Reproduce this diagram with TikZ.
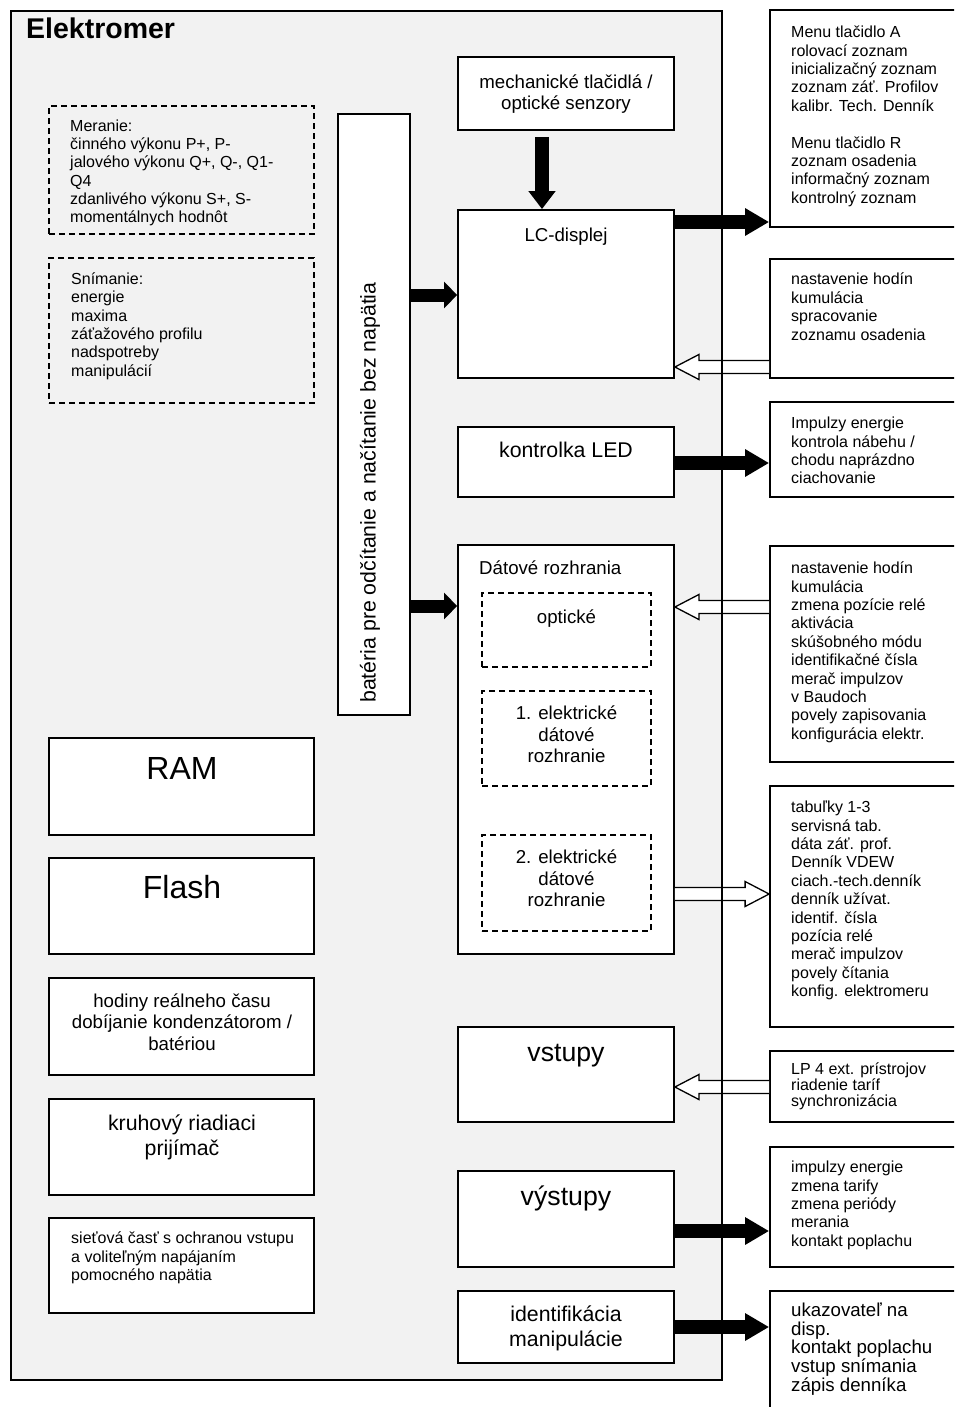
\documentclass[tikz,border=0pt]{standalone}
\usepackage{fontspec}
\setmainfont{Liberation Sans}
\usetikzlibrary{arrows.meta,calc}
\definecolor{bggray}{HTML}{F2F2F2}
\newcommand\fsz[2]{\fontsize{#1pt}{#2pt}\selectfont}
\newcommand\st[1]{\rule{0pt}{#1pt}}
\newcommand\mkbox[6]{\node[#2, minimum width={(#5-#3)*1pt}, minimum height={(#6-#4)*1pt}] (#1) at ({(#3+#5)/2},{(#4+#6)/2}) {};}
\newcommand\hollowarrow[3]{%
  \draw[hollow] let \p1=(#1), \p2=(#2) in
   (\x1,{\y2+6.5pt}) -- ({\x2+(#3)},{\y2+6.5pt}) -- ({\x2+(#3)},{\y2+12.5pt}) -- (\x2,\y2)
   -- ({\x2+(#3)},{\y2-12.5pt}) -- ({\x2+(#3)},{\y2-6.5pt}) -- (\x1,{\y2-6.5pt});}
\begin{document}
\begin{tikzpicture}[x=1pt,y=-1pt,
  box/.style={draw=black, line width=1.8pt, fill=white, inner sep=0pt, rectangle},
  dbox/.style={draw=black, line width=1.5pt, dash pattern=on 6pt off 4pt, inner sep=0pt, rectangle},
  wdbox/.style={dbox, fill=white},
  txt/.style={inner sep=0pt, align=left, anchor=north west, font=\fsz{16}{18.4}},
  ctxt/.style={inner sep=0pt, align=center, anchor=north},
  one/.style={inner sep=0pt, anchor=base},
  solidarr/.style={line width=14pt, -{Triangle[length=24pt,width=26pt]}},
  shortarr/.style={line width=13pt, -{Triangle[length=13pt,width=26pt]}},
  hollow/.style={draw=black, fill=white, line width=1.3pt, line join=miter}
]
\useasboundingbox (0,0) rectangle (954,1407);
\clip (0,0) rectangle (954,1407);

% outer meter box
\node[fill=bggray, inner sep=0pt, minimum width=711pt, minimum height=1369pt] (meter) at (366.5,695.5) {};
\node[one, anchor=base west, font=\bfseries\fsz{28.5}{32}] (title) at (26,38.5) {Elektromer};

% left dashed boxes
\mkbox{meas}{dbox}{49}{106}{314}{234}
\node[txt, font=\fsz{16}{18.1}] (meastxt) at (70,115.5) {\st{16}Meranie:\\činného výkonu P+, P-\\jalového výkonu Q+, Q-, Q1-\\Q4\\zdanlivého výkonu S+, S-\\momentálnych hodnôt};
\mkbox{scan}{dbox}{49}{258}{314}{403}
\node[txt, font=\fsz{16}{18.4}] (scantxt) at (71,268) {\st{16}Snímanie:\\energie\\maxima\\záťažového profilu\\nadspotreby\\manipulácií};

% left solid boxes
\mkbox{ram}{box}{49}{738}{314}{835}
\node[one, font=\fsz{32}{36}] (ramtxt) at (182,779) {RAM};
\mkbox{flash}{box}{49}{858}{314}{954}
\node[one, font=\fsz{32}{36}] (flashtxt) at (182,898) {Flash};
\mkbox{rtc}{box}{49}{978}{314}{1075}
\node[ctxt, font=\fsz{18.67}{21.7}] (rtctxt) at (182,988.3) {\st{18.67}hodiny reálneho času\\dobíjanie kondenzátorom /\\batériou};
\mkbox{ripple}{box}{49}{1099}{314}{1195}
\node[ctxt, font=\fsz{21.3}{25}] (rippletxt) at (182,1108.7) {\st{21.3}kruhový riadiaci\\prijímač};
\mkbox{psu}{box}{49}{1218}{314}{1313}
\node[txt, font=\fsz{16}{18.4}] (psutxt) at (71,1227.5) {\st{16}sieťová časť s ochranou vstupu\\a voliteľným napájaním\\pomocného napätia};

% battery
\mkbox{bat}{box}{338}{114}{410}{715}
\node[rotate=90, anchor=base west, inner sep=0pt, font=\fsz{21.3}{24}] (battxt) at (375.5,703) {batéria pre odčítanie a načítanie bez napätia};

% middle column
\mkbox{mech}{box}{458}{57}{674}{130}
\node[ctxt, font=\fsz{18.67}{21}] (mechtxt) at (566,69.8) {\st{18.67}mechanické tlačidlá /\\optické senzory};
\mkbox{lcd}{box}{458}{210}{674}{378}
\node[one, font=\fsz{18.67}{21}] (lcdtxt) at (566,241.5) {LC-displej};
\mkbox{led}{box}{458}{427}{674}{497}
\node[one, font=\fsz{21.3}{24}] (ledtxt) at (566,457) {kontrolka LED};
\mkbox{data}{box}{458}{545}{674}{954}
\node[one, anchor=base west, font=\fsz{18.67}{21}] (datatxt) at (479,574.5) {Dátové rozhrania};
\mkbox{opt}{wdbox}{482}{593}{651}{667}
\node[one, font=\fsz{18.67}{21}] (opttxt) at (566.5,623.5) {optické};
\mkbox{el1}{wdbox}{482}{691}{651}{786}
\node[ctxt, font=\fsz{18.67}{21.5}] (el1txt) at (566.5,700.8) {\st{18.67}1. elektrické\\dátové\\rozhranie};
\mkbox{el2}{wdbox}{482}{835}{651}{931}
\node[ctxt, font=\fsz{18.67}{21.5}] (el2txt) at (566.5,844.8) {\st{18.67}2. elektrické\\dátové\\rozhranie};
\mkbox{inp}{box}{458}{1027}{674}{1122}
\node[one, font=\fsz{26.7}{30}] (inptxt) at (566,1061) {vstupy};
\mkbox{outp}{box}{458}{1171}{674}{1267}
\node[one, font=\fsz{26.7}{30}] (outptxt) at (566,1205.5) {výstupy};
\mkbox{tamper}{box}{458}{1291}{674}{1363}
\node[ctxt, font=\fsz{21.3}{25}] (tampertxt) at (566,1299.7) {\st{21.3}identifikácia\\manipulácie};

% right boxes
\mkbox{r1}{box}{770}{10}{965}{227}
\node[txt] (r1txt) at (791,21.5) {\st{16}Menu tlačidlo A\\rolovací zoznam\\inicializačný zoznam\\zoznam záť. Profilov\\kalibr. Tech. Denník\\[18.4pt]Menu tlačidlo R\\zoznam osadenia\\informačný zoznam\\kontrolný zoznam};
\mkbox{r2}{box}{770}{259}{965}{378}
\node[txt, font=\fsz{16}{18.6}] (r2txt) at (791,268.5) {\st{16}nastavenie hodín\\kumulácia\\spracovanie\\zoznamu osadenia};
\mkbox{r3}{box}{770}{402}{965}{497}
\node[txt] (r3txt) at (791,412.5) {\st{16}Impulzy energie\\kontrola nábehu /\\chodu naprázdno\\ciachovanie};
\mkbox{r4}{box}{770}{546}{965}{762}
\node[txt] (r4txt) at (791,557.5) {\st{16}nastavenie hodín\\kumulácia\\zmena pozície relé\\aktivácia\\skúšobného módu\\identifikačné čísla\\merač impulzov\\v Baudoch\\povely zapisovania\\konfigurácia elektr.};
\mkbox{r5}{box}{770}{786}{965}{1027}
\node[txt] (r5txt) at (791,796.5) {\st{16}tabuľky 1-3\\servisná tab.\\dáta záť. prof.\\Denník VDEW\\ciach.-tech.denník\\denník užívat.\\identif. čísla\\pozícia relé\\merač impulzov\\povely čítania\\konfig. elektromeru};
\mkbox{r6}{box}{770}{1051}{965}{1122}
\node[txt, font=\fsz{16}{16}] (r6txt) at (791,1058.5) {\st{16}LP 4 ext. prístrojov\\riadenie taríf\\synchronizácia};
\mkbox{r7}{box}{770}{1147}{965}{1267}
\node[txt] (r7txt) at (791,1156.5) {\st{16}impulzy energie\\zmena tarify\\zmena periódy\\merania\\kontakt poplachu};
\mkbox{r8}{box}{770}{1291}{965}{1420}
\node[txt, font=\fsz{18.67}{18.6}] (r8txt) at (791,1297.8) {\st{18.67}ukazovateľ na\\disp.\\kontakt poplachu\\vstup snímania\\zápis denníka};

% solid arrows
\coordinate (d0) at (542,137);
\draw[line width=14pt, -{Triangle[length=18pt,width=26pt]}] (d0) -- (d0 |- lcd.north);
\draw[shortarr] (bat.east |- 0,295) -- (lcd.west |- 0,295);
\draw[shortarr] (bat.east |- 0,606) -- (data.west |- 0,606);
\draw[solidarr] (lcd.east |- 0,222) -- (r1.west |- 0,222);
\draw[solidarr] (led.east |- 0,463) -- (r3.west |- 0,463);
\draw[solidarr] (outp.east |- 0,1231) -- (r7.west |- 0,1231);
\draw[solidarr] (tamper.east |- 0,1327) -- (r8.west |- 0,1327);

% hollow arrows
\hollowarrow{r2.west |- 0,367}{lcd.east |- 0,367}{24pt}
\hollowarrow{r4.west |- 0,607}{data.east |- 0,607}{24pt}
\hollowarrow{data.east |- 0,894}{r5.west |- 0,894}{-24pt}
\hollowarrow{r6.west |- 0,1087}{inp.east |- 0,1087}{24pt}

% outer border on top
\draw[line width=2pt] (meter.north west) rectangle (meter.south east);
\end{tikzpicture}
\end{document}
